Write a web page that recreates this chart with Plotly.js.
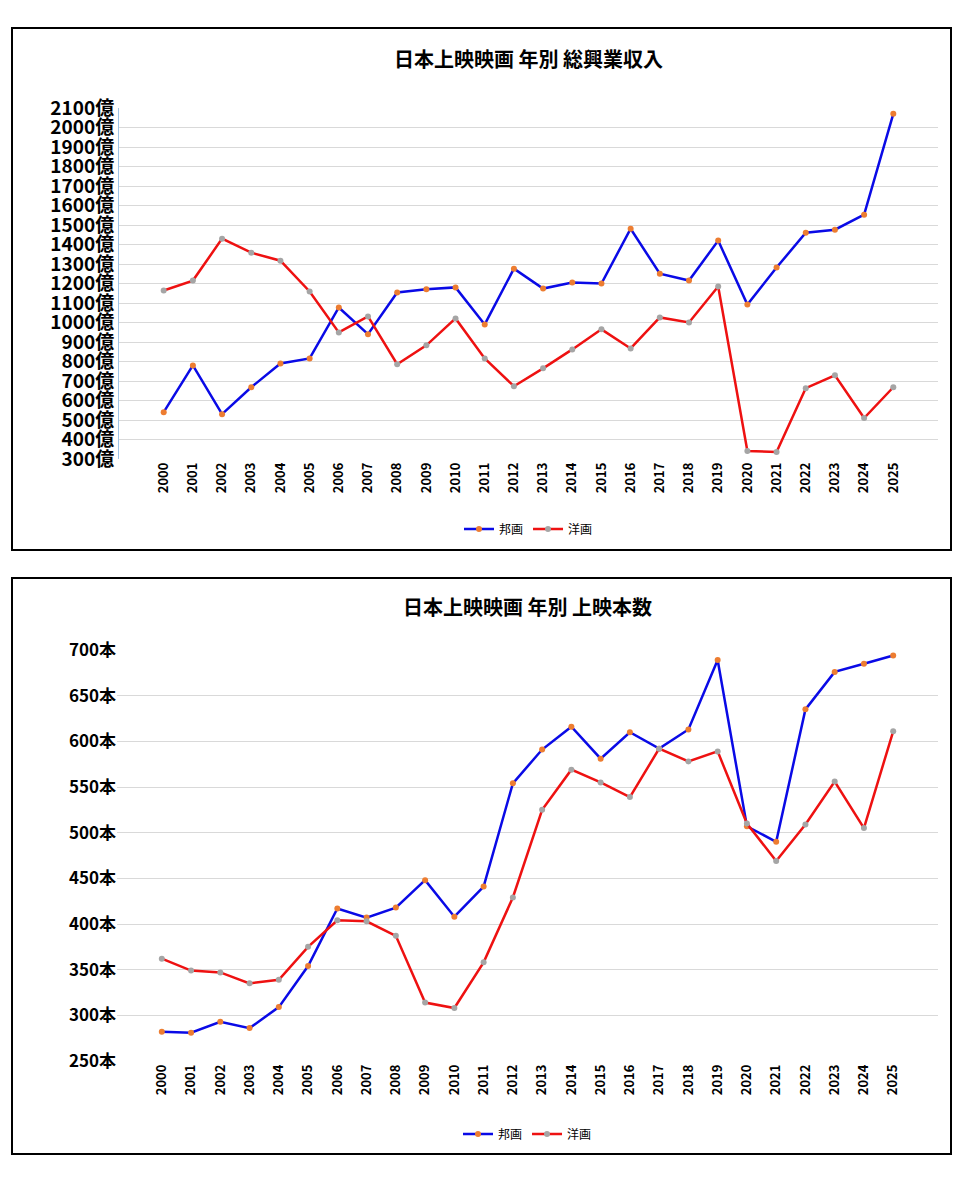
<!DOCTYPE html><html><head><meta charset="utf-8">
<script src="https://cdn.plot.ly/plotly-3.0.1.min.js"></script>
<style>body{margin:0;background:#fff}.box{position:absolute;left:11px;width:937px;border:2px solid #000;background:#fff}</style></head><body>
<div id="a" class="box" style="top:27px;height:520px"></div>
<div id="b" class="box" style="top:577px;height:574px"></div>
<script>
const years=['2000','2001','2002','2003','2004','2005','2006','2007','2008','2009','2010','2011','2012','2013','2014','2015','2016','2017','2018','2019','2020','2021','2022','2023','2024','2025'];
const revHouga=[540,780,530,668,790,816,1077,940,1154,1170,1180,990,1276,1174,1205,1200,1481,1250,1215,1420,1092,1282,1460,1476,1553,2070];
const revYoga=[1164,1215,1430,1358,1317,1159,949,1031,786,883,1021,816,673,765,862,965,867,1026,1000,1185,341,336,663,729,510,668];
const cntHouga=[282,281,293,286,309,354,417,407,418,448,408,441,554,591,616,581,610,592,613,689,507,490,635,676,685,694];
const cntYoga=[362,349,347,335,339,375,404,403,387,314,308,358,429,525,569,555,539,592,578,589,510,469,509,556,505,611];
const F='"Noto Sans CJK JP", sans-serif';
function tr(y,name,lc,mc){return {x:years,y:y,name:name,type:'scatter',mode:'lines+markers',line:{color:lc,width:2.5},marker:{color:mc,size:6}};}
function lay(title,H,t,b,l,range,dtick,suf,tf,titY,legY){return {title:{text:title,font:{family:F,size:20,color:'#000',weight:'bold'},x:0.5,xref:'paper',yref:'container',y:1-titY/H,yanchor:'middle'},
margin:{l:l,r:12,t:t,b:b,autoexpand:false},paper_bgcolor:'#fff',plot_bgcolor:'#fff',showlegend:true,
legend:{orientation:'h',x:0.5,xanchor:'center',yref:'container',y:1-legY/H,yanchor:'middle',font:{family:F,size:12,color:'#000'}},
xaxis:{type:'category',automargin:false,tickangle:-90,tickfont:{family:F,size:13,color:'#000',weight:'bold'},showgrid:false,showline:false,ticks:''},
yaxis:{range:range,dtick:dtick,automargin:false,ticksuffix:suf,tickfont:{family:F,size:tf,color:'#000',weight:'bold'},gridcolor:'#d9d9d9',zeroline:false,showline:l>104,linecolor:'#9dc3e6'}};}
Plotly.newPlot('a',[tr(revHouga,'邦画','#0a0ae6','#ed7d31'),tr(revYoga,'洋画','#ee1111','#a5a5a5')],lay('日本上映映画 年別 総興業収入',520,79,90,106,[300,2100],100,'億',19,31,500),{displayModeBar:false});
Plotly.newPlot('b',[tr(cntHouga,'邦画','#0a0ae6','#ed7d31'),tr(cntYoga,'洋画','#ee1111','#a5a5a5')],lay('日本上映映画 年別 上映本数',574,71,92,104,[250,700],50,'本',17,29,555),{displayModeBar:false});
</script></body></html>
